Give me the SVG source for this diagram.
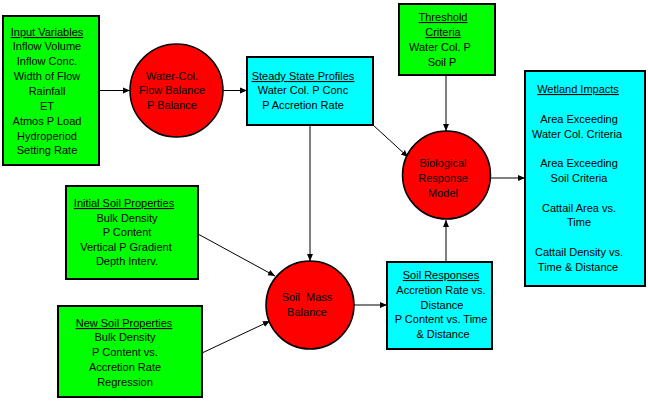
<svg xmlns="http://www.w3.org/2000/svg" width="648" height="404" viewBox="0 0 648 404">
<defs>
<marker id="ah" markerWidth="8" markerHeight="8" refX="7" refY="4" orient="auto" markerUnits="userSpaceOnUse">
<path d="M0,1 L7,4 L0,7 Z" fill="#000"/>
</marker>
<style>
.g{fill:#00FF00;stroke:#000;stroke-width:2}
.c{fill:#00FFFF;stroke:#000;stroke-width:2}
.r{fill:#FF0000;stroke:#000;stroke-width:1.5}
text{font-family:"Liberation Sans",Arial,sans-serif;font-size:11px;fill:#000;text-anchor:middle}
.u{text-decoration:underline}
.ln{stroke:#000;stroke-width:1;fill:none;marker-end:url(#ah)}
</style>
</defs>
<rect width="648" height="404" fill="#fff"/>
<g id="connectors">
<line class="ln" x1="99" y1="90.5" x2="130" y2="90.5"/>
<line class="ln" x1="223" y1="90.5" x2="247" y2="90.5"/>
<line class="ln" x1="446" y1="75" x2="446" y2="131"/>
<line class="ln" x1="373" y1="125" x2="408" y2="157"/>
<line class="ln" x1="490" y1="178" x2="525" y2="178"/>
<line class="ln" x1="446" y1="262" x2="446" y2="220"/>
<line class="ln" x1="310" y1="125" x2="310" y2="261"/>
<line class="ln" x1="354" y1="305" x2="387" y2="305"/>
<line class="ln" x1="198" y1="234" x2="275" y2="276"/>
<line class="ln" x1="202" y1="353" x2="270" y2="321"/>
</g>
<g id="input-variables">
<rect class="g" x="3" y="16" width="96" height="149"/>
<text x="47" y="36" class="u">Input Variables</text>
<text x="47" y="50">Inflow Volume</text>
<text x="47" y="65">Inflow Conc.</text>
<text x="47" y="80">Width of Flow</text>
<text x="47" y="95">Rainfall</text>
<text x="47" y="110">ET</text>
<text x="47" y="125">Atmos P Load</text>
<text x="47" y="140">Hydroperiod</text>
<text x="47" y="154">Setting Rate</text>
</g>
<g id="water-col">
<circle class="r" cx="176.5" cy="90.5" r="46.5"/>
<text x="172" y="80">Water-Col.</text>
<text x="172" y="94">Flow Balance</text>
<text x="172" y="109">P Balance</text>
</g>
<g id="steady-state">
<rect class="c" x="247" y="57" width="126" height="68"/>
<text x="303" y="80" class="u">Steady State Profiles</text>
<text x="303" y="94">Water Col. P Conc</text>
<text x="303" y="109">P Accretion Rate</text>
</g>
<g id="threshold">
<rect class="g" x="399" y="4" width="96" height="71"/>
<text x="443" y="21" class="u">Threshold</text>
<text x="443" y="36" class="u">Criteria</text>
<text x="440" y="51">Water Col. P</text>
<text x="442" y="66">Soil P</text>
</g>
<g id="biological">
<circle class="r" cx="446.5" cy="175" r="44"/>
<text x="443" y="167">Biological</text>
<text x="443" y="182">Response</text>
<text x="443" y="197">Model</text>
</g>
<g id="wetland-impacts">
<rect class="c" x="525" y="71" width="120" height="215"/>
<text x="578" y="93" class="u">Wetland Impacts</text>
<text x="579" y="123">Area Exceeding</text>
<text x="577" y="138">Water Col. Criteria</text>
<text x="579" y="167">Area Exceeding</text>
<text x="579" y="182">Soil Criteria</text>
<text x="579" y="212">Cattail Area vs.</text>
<text x="579" y="226">Time</text>
<text x="579" y="256">Cattail Density vs.</text>
<text x="578" y="271">Time &amp; Distance</text>
</g>
<g id="initial-soil">
<rect class="g" x="66" y="186" width="132" height="93"/>
<text x="124" y="207" class="u">Initial Soil Properties</text>
<text x="127" y="222">Bulk Density</text>
<text x="127" y="236">P Content</text>
<text x="126" y="251">Vertical P Gradient</text>
<text x="127" y="265">Depth Interv.</text>
</g>
<g id="new-soil">
<rect class="g" x="58" y="306" width="144" height="91"/>
<text x="124" y="327" class="u">New Soil Properties</text>
<text x="125" y="341">Bulk Density</text>
<text x="125" y="356">P Content vs.</text>
<text x="125" y="371">Accretion Rate</text>
<text x="125" y="386">Regression</text>
</g>
<g id="soil-mass">
<circle class="r" cx="310" cy="305" r="44"/>
<text x="307" y="301" xml:space="preserve" style="white-space:pre">Soil  Mass</text>
<text x="307" y="316">Balance</text>
</g>
<g id="soil-responses">
<rect class="c" x="387" y="262" width="105" height="87"/>
<text x="441" y="279" class="u">Soil Responses</text>
<text x="441" y="294">Accretion Rate vs.</text>
<text x="442" y="309">Distance</text>
<text x="441" y="323">P Content vs. Time</text>
<text x="443" y="338">&amp; Distance</text>
</g>
</svg>
